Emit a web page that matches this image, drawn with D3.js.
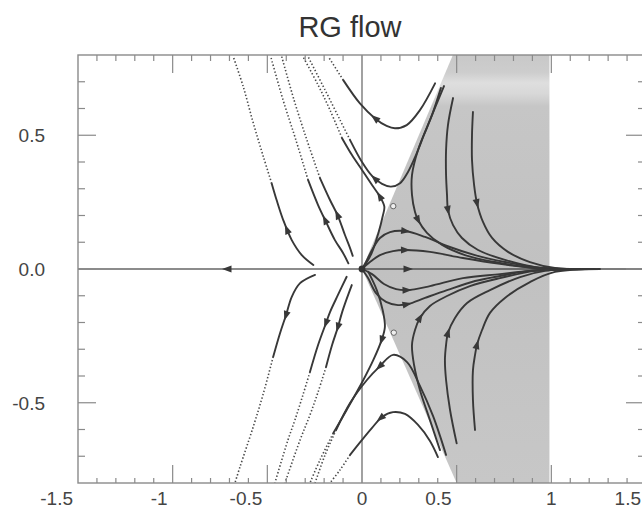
<!DOCTYPE html>
<html><head><meta charset="utf-8">
<script src="https://cdn.jsdelivr.net/npm/d3@7/dist/d3.min.js"></script>
<style>
html,body{margin:0;padding:0;background:#fff;}
svg text{font-family:"Liberation Sans",Arial,Helvetica,sans-serif;}
</style></head>
<body><svg id="c" width="642" height="512"></svg>
<script>
// ---------- data ----------
const title = "RG flow";
const xTicks = [-1.5, -1, -0.5, 0, 0.5, 1, 1.5];
const xTickLabels = ["-1.5", "-1", "-0.5", "0", "0.5", "1", "1.5"];
const yTicks = [-0.5, 0, 0.5];
const yTickLabels = ["-0.5", "0.0", "0.5"];
const xDomain = [-1.5, 1.5];
const yDomain = [-0.8, 0.8];

// shaded basin
const shade = [[0, 0], [0.48, 0.8], [0.99, 0.8], [0.99, -0.8], [0.5, -0.8]];

// fixed points
const originPoint = [[0, 0]];
const saddlePoints = [[0.165, 0.235], [0.168, -0.238]];

// trajectories (flow order); solid part then dotted continuation
const aSolid = [[-0.257,0.015],[-0.318,0.052],[-0.371,0.108],[-0.416,0.183],[-0.451,0.258],[-0.477,0.320]];
const aDotted = [[-0.477,0.320],[-0.521,0.420],[-0.574,0.545],[-0.627,0.681],[-0.680,0.794]];
const bSolid = [[-0.072,0.021],[-0.100,0.060],[-0.143,0.108],[-0.190,0.176],[-0.232,0.239],[-0.285,0.333]];
const bDotted = [[-0.285,0.333],[-0.349,0.482],[-0.417,0.632],[-0.482,0.794]];
const cSolid = [[-0.049,0.049],[-0.063,0.078],[-0.090,0.127],[-0.127,0.198],[-0.169,0.258],[-0.222,0.340]];
const cDotted = [[-0.222,0.340],[-0.291,0.482],[-0.359,0.632],[-0.424,0.794]];
const u1Solid = [[0.386,0.694],[0.306,0.594],[0.236,0.538],[0.174,0.526],[0.130,0.535],[0.069,0.563],[-0.011,0.619],[-0.099,0.706]];
const u1Dotted = [[-0.099,0.706],[-0.178,0.794]];
const u2Solid = [[0.417,0.677],[0.370,0.576],[0.327,0.501],[0.285,0.426],[0.243,0.363],[0.201,0.321],[0.153,0.308],[0.106,0.318],[0.053,0.348],[0.000,0.400],[-0.063,0.482]];
const u2Dotted = [[-0.063,0.482],[-0.116,0.557],[-0.195,0.669],[-0.285,0.794]];
const u3Solid = [[0.016,0.015],[0.051,0.059],[0.086,0.133],[0.109,0.196],[0.118,0.233],[0.095,0.270],[0.053,0.314],[0.000,0.370],[-0.053,0.426],[-0.106,0.490]];
const u3Dotted = [[-0.106,0.490],[-0.169,0.594],[-0.232,0.688],[-0.312,0.794]];
const g1 = [[0.433,0.684],[0.359,0.557],[0.296,0.445],[0.264,0.351],[0.264,0.277],[0.280,0.213],[0.296,0.183],[0.343,0.135],[0.423,0.090],[0.544,0.052],[0.702,0.026],[0.914,0.004],[1.151,0]];
const g2 = [[0.481,0.639],[0.454,0.538],[0.444,0.445],[0.444,0.351],[0.449,0.277],[0.454,0.221],[0.481,0.164],[0.528,0.116],[0.613,0.071],[0.755,0.034],[0.940,0.004],[1.178,0]];
const g3 = [[0.586,0.587],[0.581,0.501],[0.581,0.407],[0.592,0.314],[0.607,0.247],[0.639,0.176],[0.687,0.116],[0.771,0.064],[0.887,0.026],[1.019,0.004],[1.231,0]];
const g4 = [[0,0],[0.021,0.026],[0.053,0.071],[0.095,0.116],[0.148,0.138],[0.227,0.142],[0.333,0.120],[0.449,0.086],[0.597,0.052],[0.755,0.026],[0.914,0.007],[1.099,0]];
const g5 = [[0,0],[0.042,0.026],[0.095,0.052],[0.164,0.067],[0.227,0.071],[0.359,0.064],[0.533,0.041],[0.729,0.019],[0.914,0.004],[1.099,0]];

const aLSolid = [[-0.248,-0.022],[-0.327,-0.053],[-0.371,-0.104],[-0.401,-0.172],[-0.433,-0.240],[-0.469,-0.328]];
const aLDotted = [[-0.469,-0.328],[-0.521,-0.465],[-0.574,-0.589],[-0.644,-0.739],[-0.671,-0.800]];
const bLSolid = [[-0.081,-0.029],[-0.127,-0.097],[-0.169,-0.161],[-0.190,-0.202],[-0.232,-0.284],[-0.275,-0.385]];
const bLDotted = [[-0.275,-0.385],[-0.312,-0.471],[-0.354,-0.564],[-0.391,-0.639],[-0.460,-0.800]];
const cLSolid = [[-0.054,-0.060],[-0.079,-0.108],[-0.106,-0.164],[-0.127,-0.217],[-0.158,-0.284],[-0.190,-0.366]];
const cLDotted = [[-0.190,-0.366],[-0.232,-0.460],[-0.275,-0.546],[-0.327,-0.639],[-0.407,-0.800]];
const u1LSolid = [[0.401,-0.703],[0.359,-0.643],[0.296,-0.583],[0.227,-0.542],[0.164,-0.535],[0.106,-0.553],[0.053,-0.594],[0,-0.639],[-0.063,-0.695]];
const u1LDotted = [[-0.063,-0.695],[-0.116,-0.751],[-0.169,-0.800]];
const u2LSolid = [[0.444,-0.695],[0.412,-0.624],[0.375,-0.549],[0.306,-0.437],[0.238,-0.348],[0.164,-0.321],[0.095,-0.363],[0.026,-0.415],[-0.063,-0.501],[-0.137,-0.602]];
const u2LDotted = [[-0.137,-0.602],[-0.195,-0.695],[-0.248,-0.800]];
const u3LSolid = [[0.033,-0.010],[0.078,-0.079],[0.109,-0.153],[0.121,-0.216],[0.104,-0.265],[0.060,-0.340],[0.007,-0.415],[-0.081,-0.527],[-0.152,-0.614]];
const u3LDotted = [[-0.152,-0.614],[-0.222,-0.714],[-0.275,-0.800]];
const g1L = [[0.412,-0.677],[0.359,-0.565],[0.306,-0.452],[0.275,-0.359],[0.264,-0.284],[0.280,-0.228],[0.306,-0.183],[0.359,-0.138],[0.449,-0.101],[0.570,-0.064],[0.729,-0.034],[0.914,-0.007],[1.151,0]];
const g2L = [[0.500,-0.652],[0.465,-0.527],[0.444,-0.415],[0.438,-0.340],[0.444,-0.284],[0.454,-0.239],[0.491,-0.183],[0.555,-0.127],[0.676,-0.079],[0.835,-0.030],[0.967,-0.007],[1.204,0]];
const g3L = [[0.597,-0.602],[0.586,-0.490],[0.586,-0.378],[0.597,-0.321],[0.607,-0.284],[0.634,-0.228],[0.676,-0.164],[0.755,-0.108],[0.887,-0.049],[1.019,-0.011],[1.257,0]];
const g4L = [[0,0],[0.032,-0.034],[0.074,-0.090],[0.127,-0.123],[0.190,-0.135],[0.243,-0.131],[0.333,-0.108],[0.449,-0.079],[0.597,-0.045],[0.729,-0.026],[0.887,-0.007],[1.099,0]];
const g5L = [[0,0],[0.053,-0.019],[0.116,-0.056],[0.180,-0.075],[0.238,-0.079],[0.359,-0.064],[0.533,-0.034],[0.729,-0.019],[0.887,-0.007],[1.099,0]];

const axisLeft = [[0,0],[-1.5,0]];
const axisRight = [[0,0],[1.5,0]];

// arrow heads (points on the trajectories where a triangle is drawn)
const arrowsUpper = [[-0.396,0.146],[-0.190,0.183],[-0.125,0.202],[0.069,0.563],[0.074,0.340],[0.095,0.270],[0.296,0.183],[0.454,0.221],[0.607,0.247],[0.227,0.142],[0.227,0.071]];
const arrowsLower = [[-0.401,-0.172],[-0.190,-0.202],[-0.122,-0.217],[0.095,-0.552],[0.095,-0.365],[0.104,-0.265],[0.306,-0.183],[0.454,-0.239],[0.607,-0.284],[0.236,-0.131],[0.236,-0.079]];
const arrowsAxis = [[-0.71,0],[0.24,0]];

// ---------- drawing ----------
const svg = d3.select("#c");
const x = d3.scaleLinear().domain(xDomain).range([78, 646]);
const y = d3.scaleLinear().domain(yDomain).range([483, 55]);
const ink = "#383838", axisCol = "#8a8a8a";

const defs = svg.append("defs");
const grad = defs.append("linearGradient").attr("id","shadeGrad").attr("x1",0).attr("y1",0).attr("x2",0).attr("y2",1);
[[0,"#c8c8c8"],[0.04,"#cdcdcd"],[0.065,"#dedede"],[0.09,"#d8d8d8"],[0.12,"#c6c6c6"],[0.5,"#c1c1c1"],[1,"#c7c7c7"]]
  .forEach(s => grad.append("stop").attr("offset", s[0]).attr("stop-color", s[1]));
defs.append("clipPath").attr("id","plotClip").append("rect")
  .attr("x", x(-1.5)).attr("y", y(0.8)).attr("width", x(1.5)-x(-1.5)).attr("height", y(-0.8)-y(0.8));

svg.append("text").attr("x", 350).attr("y", 37).attr("text-anchor","middle")
  .attr("font-size", 29).attr("fill", "#333").text(title);

const plot = svg.append("g").attr("clip-path","url(#plotClip)");

// shaded region
plot.append("path")
  .attr("d", d3.line().x(d=>x(d[0])).y(d=>y(d[1])).curve(d3.curveLinearClosed)(shade))
  .attr("fill", "url(#shadeGrad)").attr("stroke","none");

// x = 0 line
plot.append("line").attr("x1", x(0)).attr("x2", x(0)).attr("y1", y(0.8)).attr("y2", y(-0.8))
  .attr("stroke", "#7a7a7a").attr("stroke-width", 1.4);

const line = d3.line().x(d=>x(d[0])).y(d=>y(d[1])).curve(d3.curveCatmullRom.alpha(0.5));

const solids = [aSolid,bSolid,cSolid,u1Solid,u2Solid,u3Solid,g1,g2,g3,g4,g5,
                aLSolid,bLSolid,cLSolid,u1LSolid,u2LSolid,u3LSolid,g1L,g2L,g3L,g4L,g5L];
const dotted = [aDotted,bDotted,cDotted,u1Dotted,u2Dotted,u3Dotted,
                aLDotted,bLDotted,cLDotted,u1LDotted,u2LDotted,u3LDotted];

plot.append("path").attr("d", line(axisLeft)).attr("stroke","#666").attr("stroke-width",1.6).attr("fill","none");
plot.append("path").attr("d", line(axisRight)).attr("stroke","#505050").attr("stroke-width",1.7).attr("fill","none");

const solidPaths = solids.map(s => plot.append("path").attr("d", line(s))
  .attr("fill","none").attr("stroke", ink).attr("stroke-width", 1.9).attr("stroke-linecap","round"));
dotted.forEach(s => plot.append("path").attr("d", line(s))
  .attr("fill","none").attr("stroke", "#4a4a4a").attr("stroke-width", 1.6)
  .attr("stroke-dasharray","1.4 2.1"));

// arrowheads oriented along nearest trajectory
const allPaths = solidPaths.map(p => p.node());
function arrowAt(pt, pathNodes) {
  const px = x(pt[0]), py = y(pt[1]);
  let best = null;
  pathNodes.forEach(n => {
    const L = n.getTotalLength();
    for (let l = 0; l <= L; l += 0.5) {
      const p = n.getPointAtLength(l);
      const d = (p.x-px)*(p.x-px)+(p.y-py)*(p.y-py);
      if (!best || d < best.d) best = {d, n, l, L, p};
    }
  });
  const a = best.n.getPointAtLength(Math.max(0, best.l-2));
  const b = best.n.getPointAtLength(Math.min(best.L, best.l+2));
  const ang = Math.atan2(b.y-a.y, b.x-a.x) * 180/Math.PI;
  plot.append("path").attr("d","M5.5,0 L-4,-3.5 L-4,3.5 Z")
    .attr("transform", `translate(${best.p.x},${best.p.y}) rotate(${ang})`)
    .attr("fill", ink);
}
arrowsUpper.forEach(p => arrowAt(p, allPaths.slice(0, 11)));
arrowsLower.forEach(p => arrowAt(p, allPaths.slice(11)));
const axisNodeL = plot.append("path").attr("d", line(axisLeft)).attr("stroke","none").attr("fill","none").node();
const axisNodeR = plot.append("path").attr("d", line(axisRight)).attr("stroke","none").attr("fill","none").node();
arrowAt(arrowsAxis[0], [axisNodeL]);
arrowAt(arrowsAxis[1], [axisNodeR]);

// fixed points
plot.selectAll("circle.o").data(originPoint).join("circle")
  .attr("cx", d=>x(d[0])).attr("cy", d=>y(d[1])).attr("r", 3.4).attr("fill", "#333");
plot.selectAll("circle.s").data(saddlePoints).join("circle")
  .attr("cx", d=>x(d[0])).attr("cy", d=>y(d[1])).attr("r", 2.7)
  .attr("fill", "#eee").attr("stroke", "#666").attr("stroke-width", 1);

// frame
const frame = svg.append("g");
frame.append("rect").attr("x", x(-1.5)).attr("y", y(0.8)).attr("width", x(1.5)-x(-1.5)).attr("height", y(-0.8)-y(0.8))
  .attr("fill","none").attr("stroke", axisCol).attr("stroke-width", 1.4);

// ticks (inward)
const minorX = d3.range(-15, 16).map(i => i/10);
const minorY = d3.range(-8, 9).map(i => i/10);
const isMajor = v => Math.abs(v*2 - Math.round(v*2)) < 1e-6;
minorX.forEach(v => {
  if (Math.abs(v) < 1e-9 || Math.abs(Math.abs(v)-1.5) < 1e-9) return;
  frame.append("line").attr("x1", x(v)).attr("x2", x(v)).attr("y1", y(-0.8)).attr("y2", y(-0.8)-(isMajor(v)?18:5))
    .attr("stroke", axisCol).attr("stroke-width", 1.2);
  frame.append("line").attr("x1", x(v)).attr("x2", x(v)).attr("y1", y(0.8)).attr("y2", y(0.8)+(isMajor(v)?18:6))
    .attr("stroke", axisCol).attr("stroke-width", 1.2);
});
minorY.forEach(v => {
  if (Math.abs(Math.abs(v)-0.8) < 1e-9) return;
  frame.append("line").attr("x1", x(-1.5)).attr("x2", x(-1.5)+(isMajor(v)?18:7)).attr("y1", y(v)).attr("y2", y(v))
    .attr("stroke", axisCol).attr("stroke-width", 1.2);
  frame.append("line").attr("x1", x(1.5)).attr("x2", x(1.5)-(isMajor(v)?20:8)).attr("y1", y(v)).attr("y2", y(v))
    .attr("stroke", axisCol).attr("stroke-width", 1.2);
});

// tick labels
xTicks.forEach((v, i) => {
  const lab = xTickLabels[i];
  const single = lab.length === 1;
  frame.append("text").attr("x", single ? x(v) : x(v) - 5).attr("y", 505)
    .attr("text-anchor", single ? "middle" : "end").attr("font-size", 19).attr("fill", "#444").text(lab);
});
yTicks.forEach((v, i) => {
  frame.append("text").attr("x", 45).attr("y", y(v)).attr("dy", "0.36em")
    .attr("text-anchor", "end").attr("font-size", 19).attr("fill", "#444").text(yTickLabels[i]);
});
</script></body></html>
